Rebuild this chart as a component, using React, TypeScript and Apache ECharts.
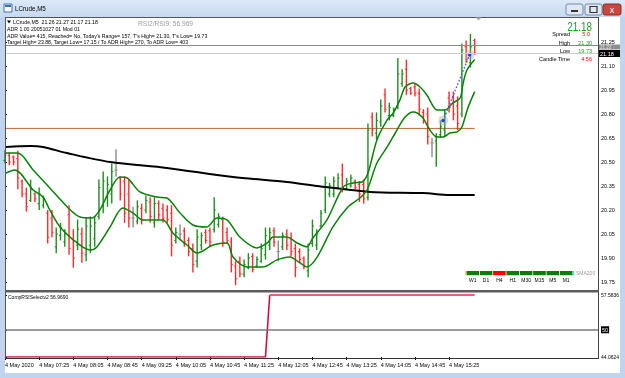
import React, { useEffect, useRef } from "react";
import * as echarts from "echarts";

const FONT = "'Liberation Sans', Arial, sans-serif";

// time axis (bar index -> label)
const timeLabelIdx = [0, 8, 16, 24, 32, 40, 48, 56, 64, 72, 80, 88, 96, 104];
const timeLabels = [
  "4 May 2020", "4 May 07:25", "4 May 08:05", "4 May 08:45", "4 May 09:25", "4 May 10:05", "4 May 10:45",
  "4 May 11:25", "4 May 12:05", "4 May 12:45", "4 May 13:25", "4 May 14:05", "4 May 14:45", "4 May 15:25",
];
const priceTicks = [19.75, 19.9, 20.05, 20.2, 20.35, 20.5, 20.65, 20.8, 20.95, 21.1, 21.25];

// OHLC per M5 bar: [open, high, low, close]
const ohlc: number[][] = [
  [20.51, 20.575, 20.49, 20.55], [20.54, 20.56, 20.48, 20.5], [20.53, 20.54, 20.48, 20.5], [20.52, 20.57, 20.33, 20.4],
  [20.38, 20.39, 20.28, 20.3], [20.3, 20.34, 20.19, 20.22], [20.26, 20.39, 20.25, 20.33], [20.3, 20.31, 20.25, 20.27],
  [20.24, 20.34, 20.2, 20.3], [20.23, 20.29, 20.21, 20.27], [20.18, 20.2, 19.99, 20.03], [20.15, 20.2, 20.03, 20.06],
  [19.97, 20.09, 19.93, 20.05], [20.04, 20.12, 20.01, 20.09], [20.0, 20.08, 19.97, 20.05], [20.17, 20.23, 19.92, 19.96],
  [20.02, 20.08, 19.84, 19.9], [19.98, 20.14, 19.95, 20.08], [20.05, 20.09, 19.87, 19.93], [19.92, 20.15, 19.88, 20.1],
  [19.98, 20.16, 19.93, 20.1], [20.02, 20.16, 19.97, 20.12], [20.16, 20.39, 20.14, 20.34], [20.22, 20.44, 20.18, 20.38],
  [20.28, 20.41, 20.22, 20.36], [20.3, 20.49, 20.24, 20.44], [20.45, 20.58, 20.41, 20.45], [20.4, 20.41, 20.26, 20.3],
  [20.38, 20.41, 20.12, 20.18], [20.3, 20.39, 20.09, 20.15], [20.15, 20.22, 20.09, 20.15], [20.13, 20.26, 20.11, 20.22],
  [20.21, 20.24, 20.11, 20.14], [20.2, 20.29, 20.18, 20.26], [20.25, 20.28, 20.12, 20.16], [20.12, 20.28, 20.09, 20.24],
  [20.24, 20.26, 20.14, 20.17], [20.21, 20.24, 20.12, 20.15], [20.2, 20.23, 20.12, 20.14], [20.18, 20.23, 19.91, 19.98],
  [20.01, 20.09, 19.99, 20.06], [20.05, 20.11, 20.01, 20.05], [20.07, 20.09, 19.97, 20.0], [20.01, 20.03, 19.91, 19.94],
  [19.96, 19.99, 19.81, 19.86], [19.88, 20.08, 19.84, 20.03], [19.98, 20.06, 19.95, 20.04], [20.06, 20.08, 19.99, 20.01],
  [20.07, 20.09, 19.97, 20.0], [20.08, 20.28, 20.06, 20.2], [20.11, 20.18, 20.09, 20.16], [20.14, 20.16, 19.97, 20.0],
  [20.06, 20.09, 19.99, 20.01], [20.0, 20.03, 19.81, 19.86], [19.85, 19.88, 19.73, 19.77], [19.88, 19.91, 19.78, 19.8],
  [19.8, 19.89, 19.78, 19.86], [19.84, 19.93, 19.83, 19.9], [19.91, 19.93, 19.81, 19.83], [19.85, 19.91, 19.84, 19.89],
  [19.88, 19.99, 19.87, 19.96], [19.92, 20.09, 19.89, 20.04], [19.98, 20.09, 19.95, 20.06], [20.07, 20.09, 19.97, 20.0],
  [19.94, 20.01, 19.88, 19.94], [19.97, 20.06, 19.95, 20.04], [20.05, 20.08, 19.95, 19.98], [20.02, 20.06, 19.91, 19.94],
  [19.96, 19.99, 19.78, 19.84], [19.94, 19.96, 19.87, 19.89], [19.9, 19.91, 19.83, 19.85], [19.82, 19.99, 19.78, 19.95],
  [19.99, 20.14, 19.97, 20.1], [19.98, 20.08, 19.95, 20.05], [20.1, 20.2, 20.09, 20.18], [20.2, 20.41, 20.18, 20.37],
  [20.3, 20.37, 20.28, 20.35], [20.3, 20.41, 20.28, 20.38], [20.34, 20.43, 20.33, 20.4], [20.42, 20.49, 20.31, 20.34],
  [20.33, 20.4, 20.33, 20.38], [20.35, 20.42, 20.34, 20.4], [20.38, 20.39, 20.33, 20.34], [20.36, 20.38, 20.25, 20.3],
  [20.36, 20.39, 20.24, 20.27], [20.28, 20.74, 20.26, 20.7], [20.78, 20.81, 20.66, 20.7], [20.68, 20.81, 20.64, 20.76],
  [20.75, 20.89, 20.72, 20.85], [20.92, 20.96, 20.81, 20.83], [20.79, 20.87, 20.76, 20.84], [20.79, 20.84, 20.78, 20.83],
  [20.85, 21.15, 20.83, 21.05], [20.99, 21.08, 20.97, 21.05], [21.08, 21.14, 20.92, 20.95], [20.96, 20.97, 20.92, 20.93],
  [20.97, 20.99, 20.91, 20.93], [20.93, 20.96, 20.79, 20.83], [20.81, 20.83, 20.74, 20.76], [20.8, 20.84, 20.61, 20.66],
  [20.62, 20.65, 20.53, 20.62], [20.63, 20.68, 20.47, 20.66], [20.67, 20.76, 20.65, 20.72], [20.7, 20.83, 20.66, 20.8],
  [20.9, 20.94, 20.81, 20.84], [20.9, 20.94, 20.76, 20.8], [20.85, 20.91, 20.7, 20.74], [20.8, 21.24, 20.78, 21.2],
  [21.22, 21.26, 21.12, 21.14], [21.12, 21.3, 21.09, 21.22], [21.26, 21.27, 21.17, 21.18],
];

// envelope bands and SMA200: [bar index, price]
const upperBand: number[][] = [
  [0.2, 20.556], [3, 20.556], [6.6, 20.45], [10.5, 20.338], [14.8, 20.213], [17.6, 20.156], [20.4, 20.15], [22.2, 20.2],
  [24.6, 20.325], [26.9, 20.406], [28.6, 20.4], [31.6, 20.313], [35.6, 20.281], [37.9, 20.275], [41, 20.181], [44, 20.106],
  [47.3, 20.094], [49.6, 20.15], [52, 20.138], [55, 20.031], [59, 19.963], [61.4, 19.994], [62.8, 20.031], [66, 20.031],
  [68.4, 19.994], [70.7, 19.97], [72.1, 20.025], [75.4, 20.138], [79.2, 20.344], [81.5, 20.369], [83.6, 20.375], [85, 20.431],
  [87.1, 20.638], [89.5, 20.763], [90.9, 20.806], [92.5, 20.888], [93.7, 20.969], [95.6, 20.994], [97.2, 20.969], [98.8, 20.919],
  [101.2, 20.825], [103, 20.825], [104.9, 20.869], [106.6, 20.9], [107.3, 20.994], [108.2, 21.075], [110, 21.14],
];
const lowerBand: number[][] = [
  [0.2, 20.431], [2.3, 20.45], [6.6, 20.325], [8.9, 20.281], [10.5, 20.2], [12.9, 20.094], [16.9, 19.994], [19.9, 19.95],
  [21.5, 19.969], [24.6, 20.094], [27.6, 20.213], [30, 20.181], [32.3, 20.138], [37, 20.138], [39.3, 20.056], [42.6, 19.981],
  [45, 19.931], [48.7, 19.981], [52, 19.994], [53.4, 19.906], [56.7, 19.844], [60.4, 19.844], [63.7, 19.888], [66.7, 19.906],
  [69.1, 19.869], [70.7, 19.844], [73.1, 19.906], [76.8, 20.094], [80.3, 20.219], [83.1, 20.275], [84.8, 20.325], [87.1, 20.494],
  [89.5, 20.594], [91.8, 20.7], [93.7, 20.781], [95.6, 20.813], [97.7, 20.781], [99.5, 20.7], [101.2, 20.656], [102.6, 20.656],
  [104.2, 20.681], [105.9, 20.688], [107, 20.719], [108.4, 20.838], [110, 20.94],
];
const sma200: number[][] = [
  [0.2, 20.594], [5.9, 20.6], [8.9, 20.594], [14.5, 20.556], [24.6, 20.5], [37.9, 20.463], [53.4, 20.406], [66, 20.375],
  [73.1, 20.35], [85.5, 20.313], [97.9, 20.306], [104.2, 20.294], [110, 20.294],
];
const levelLine: number[][] = [[0, 20.71], [110, 20.71]];
const trendPoints: number[][] = [[102.6, 20.76], [108.8, 21.17]];
const askPrice = 21.23;
const bidPrice = 21.18;

// CompRSISelect v2 steps: [bar index, value]
const rsiSteps: number[][] = [[0, 44.0624], [61, 44.0624], [62, 57.5836], [110, 57.5836]];
const rsiTicks = [44.0624, 50, 57.5836];
const rsiLevel = 50;

const tfLabels = ["W1", "D1", "H4", "H1", "M30", "M15", "M5", "M1"];
const tfUp = [true, true, false, true, true, true, true, true];

const X_MAX = 593 / 4.27;
const UP = "#1f8c1f";
const DOWN = "#ff2b2b";
const FLAT = "#8a8a8a";
const GREEN_TXT = "#1f9a1f";

function txt(x: number, y: number, text: string, size: number, fill = "#000", align = "left", extra: any = {}) {
  return {
    type: "text",
    x,
    y,
    z: 20,
    silent: true,
    ...extra,
    style: { text, fill, font: `${size}px ${FONT}`, textAlign: align, textVerticalAlign: "middle" },
  };
}

export default function App() {
  const ref = useRef<HTMLDivElement>(null);
  useEffect(() => {
    if (!ref.current) return;
    const chart = echarts.init(ref.current, undefined, { renderer: "svg" });

    const graphics: any[] = [
      // window frame & title bar
      { type: "rect", z: -10, silent: true, shape: { x: 0, y: 0, width: 625, height: 378 }, style: { fill: "#bfd5ef" } },
      {
        type: "rect", z: -9, silent: true, shape: { x: 0, y: 0, width: 625, height: 17 },
        style: { fill: new echarts.graphic.LinearGradient(0, 0, 0, 1, [{ offset: 0, color: "#dce9f7" }, { offset: 1, color: "#c6d9f0" }]) },
      },
      { type: "rect", z: -8, silent: true, shape: { x: 5, y: 17, width: 615, height: 356 }, style: { fill: "#ffffff" } },
      // icon
      { type: "rect", z: 20, silent: true, shape: { x: 4, y: 4, width: 8, height: 8 }, style: { fill: "#ffffff", stroke: "#3a6db5", lineWidth: 1 } },
      { type: "rect", z: 20, silent: true, shape: { x: 5, y: 5, width: 6, height: 2 }, style: { fill: "#3a6db5" } },
      txt(15, 9, "LCrude,M5", 8, "#000", "left", { scaleX: 0.78 }),
      // buttons
      { type: "rect", z: 20, silent: true, shape: { x: 566, y: 4, width: 17, height: 11, r: 2 }, style: { fill: "#dfe7f2", stroke: "#7489a8", lineWidth: 1 } },
      { type: "rect", z: 21, silent: true, shape: { x: 571, y: 10, width: 7, height: 2 }, style: { fill: "#333" } },
      { type: "rect", z: 20, silent: true, shape: { x: 585, y: 4, width: 17, height: 11, r: 2 }, style: { fill: "#dfe7f2", stroke: "#7489a8", lineWidth: 1 } },
      { type: "rect", z: 21, silent: true, shape: { x: 590, y: 6.5, width: 7, height: 6 }, style: { fill: "none", stroke: "#333", lineWidth: 1.2 } },
      { type: "rect", z: 20, silent: true, shape: { x: 603, y: 4, width: 18, height: 11, r: 2 }, style: { fill: "#c8473e", stroke: "#8a2d27", lineWidth: 1 } },
      txt(612, 9.5, "x", 9, "#ffffff", "center"),
      // panel frame
      { type: "line", z: 15, silent: true, shape: { x1: 5, y1: 17.5, x2: 598, y2: 17.5 }, style: { stroke: "#555", lineWidth: 1 } },
      { type: "line", z: 15, silent: true, shape: { x1: 5.5, y1: 17, x2: 5.5, y2: 359 }, style: { stroke: "#555", lineWidth: 1 } },
      { type: "line", z: 15, silent: true, shape: { x1: 598.5, y1: 17, x2: 598.5, y2: 359 }, style: { stroke: "#444", lineWidth: 1 } },
      { type: "rect", z: 15, silent: true, shape: { x: 5, y: 290, width: 594, height: 2.5 }, style: { fill: "#5c5c5c" } },
      { type: "line", z: 15, silent: true, shape: { x1: 5, y1: 358.5, x2: 598, y2: 358.5 }, style: { stroke: "#333", lineWidth: 1 } },
      // header texts
      { type: "polygon", z: 20, silent: true, shape: { points: [[7, 20.5], [11, 20.5], [9, 23.5]] }, style: { fill: "#000" } },
      txt(13, 22, "LCrude,M5  21.26 21.27 21.17 21.18", 5.2),
      txt(7, 29, "ADR 1.00 20051027 01 Mod 01", 5.2),
      txt(7, 35.5, "ADR Value= 415, Reached= No, Today's Range= 157, T's High= 21.30, T's Low= 19.73", 5.2),
      txt(7, 42, "Target High= 23.88, Target Low= 17.15 / To ADR High= 270, To ADR Low= 403", 5.2),
      txt(138, 23, "RSI2/RSI9: 56.969", 6.6, "#9c9c9c"),
      { type: "polygon", z: 20, silent: true, shape: { points: [[475.5, 17.5], [481.5, 17.5], [478.5, 20.5]] }, style: { fill: "#b0b0b0" } },
      // right info block
      txt(592, 26, "21.18", 13, GREEN_TXT, "right", { scaleX: 0.76 }),
      txt(570, 34, "Spread", 5.5, "#000", "right"), txt(590, 34, "5.0", 5.5, "#ff0000", "right"),
      txt(570, 43, "High", 5.5, "#000", "right"), txt(592, 43, "21.30", 5.5, GREEN_TXT, "right"),
      txt(570, 51, "Low", 5.5, "#000", "right"), txt(592, 51, "19.73", 5.5, GREEN_TXT, "right"),
      txt(570, 59, "Candle Time", 5.5, "#000", "right"), txt(592, 59, "4:56", 5.5, "#ff0000", "right"),
      // price axis boxes
      { type: "rect", z: 20, silent: true, shape: { x: 599, y: 44.5, width: 21, height: 5 }, style: { fill: "#8e8e8e" } },
      txt(600, 47.1, "21.23", 4.5, "#e0e0e0"),
      { type: "rect", z: 20, silent: true, shape: { x: 599, y: 50, width: 21, height: 7 }, style: { fill: "#000" } },
      txt(600, 53.5, "21.18", 5.5, "#ffffff"),
      // sub window label
      txt(8, 296.5, "CompRSISelectv2 56.9690", 5),
    ];

    // MTF trend bar
    tfLabels.forEach((lab, i) => {
      const x0 = 466 + i * 13.35;
      graphics.push({
        type: "rect", z: 20, silent: true, shape: { x: x0 + 0.4, y: 271, width: 12.6, height: 4.2 },
        style: { fill: tfUp[i] ? "#008000" : "#ff0000" },
      });
      graphics.push(txt(x0 + 6.7, 280, lab, 5, "#000", "center"));
    });
    graphics.push({ type: "rect", z: 21, silent: true, shape: { x: 465.5, y: 271, width: 1.3, height: 4.2 }, style: { fill: "#d8b800" } });
    graphics.push({ type: "rect", z: 21, silent: true, shape: { x: 572.8, y: 271, width: 1.3, height: 4.2 }, style: { fill: "#40d8e0" } });
    graphics.push(txt(576, 273.2, "SMA200", 5, "#9a9a9a"));

    const option: any = {
      animation: false,
      textStyle: { fontFamily: FONT },
      grid: [
        { left: 5, top: 18, width: 593, height: 272 },
        { left: 5, top: 295, width: 593, height: 62 },
      ],
      xAxis: [
        { type: "value", gridIndex: 0, min: 0, max: X_MAX, show: false },
        {
          type: "value", gridIndex: 1, min: 0, max: X_MAX,
          axisLine: { show: false }, splitLine: { show: false },
          axisTick: { show: true, customValues: timeLabelIdx, length: 3, lineStyle: { color: "#000" } },
          axisLabel: {
            customValues: timeLabelIdx,
            formatter: (v: number) => timeLabels[timeLabelIdx.indexOf(v)] ?? "",
            align: "left", fontSize: 5.5, color: "#000", margin: 5, fontFamily: FONT,
          },
        },
      ],
      yAxis: [
        {
          type: "value", gridIndex: 0, position: "right", min: 19.7, max: 21.4,
          axisLine: { show: false }, splitLine: { show: false },
          axisTick: { show: true, customValues: priceTicks, length: 2, lineStyle: { color: "#000" } },
          axisLabel: { customValues: priceTicks, formatter: (v: number) => v.toFixed(2), fontSize: 5.5, color: "#000", margin: 3, fontFamily: FONT },
        },
        {
          type: "value", gridIndex: 1, position: "right", min: 44.0624, max: 57.5836,
          axisLine: { show: false }, splitLine: { show: false },
          axisTick: { show: true, customValues: rsiTicks, length: 2, lineStyle: { color: "#000" } },
          axisLabel: {
            customValues: rsiTicks,
            formatter: (v: number) => (Math.abs(v - 50) < 1e-6 ? "{b|50}" : v.toFixed(4)),
            fontSize: 5, color: "#000", margin: 3, fontFamily: FONT,
            rich: { b: { backgroundColor: "#000", color: "#fff", fontSize: 5.5, padding: [1, 1, 0, 1], fontFamily: FONT } },
          },
        },
      ],
      graphic: { elements: graphics },
      series: [
        {
          type: "line", xAxisIndex: 0, yAxisIndex: 0, data: levelLine, symbol: "none", silent: true,
          lineStyle: { color: "#b8683a", width: 1 }, z: 1,
          markLine: {
            silent: true, symbol: "none", label: { show: false },
            data: [
              { yAxis: askPrice, lineStyle: { color: "#8a8a8a", width: 1, type: "solid" } },
              { yAxis: bidPrice, lineStyle: { color: "#cfcfcf", width: 1, type: "solid" } },
            ],
          },
        },
        {
          type: "custom", xAxisIndex: 0, yAxisIndex: 0, z: 2,
          data: ohlc.map((d, i) => [i, d[0], d[1], d[2], d[3]]),
          encode: { x: 0, y: [1, 2, 3, 4] },
          renderItem: (_p: any, api: any) => {
            const i = api.value(0);
            const o = api.value(1), h = api.value(2), l = api.value(3), c = api.value(4);
            const ph = api.coord([i, h]), pl = api.coord([i, l]), po = api.coord([i, o]), pc = api.coord([i, c]);
            const col = c > o ? UP : c < o ? DOWN : FLAT;
            return {
              type: "group",
              children: [
                { type: "line", shape: { x1: ph[0], y1: ph[1], x2: pl[0], y2: pl[1] }, style: { stroke: col, lineWidth: 1.4 } },
                { type: "line", shape: { x1: po[0] - 1.6, y1: po[1], x2: po[0], y2: po[1] }, style: { stroke: col, lineWidth: 1 } },
                { type: "line", shape: { x1: pc[0], y1: pc[1], x2: pc[0] + 1.6, y2: pc[1] }, style: { stroke: col, lineWidth: 1 } },
              ],
            };
          },
        },
        { type: "line", xAxisIndex: 0, yAxisIndex: 0, data: sma200, symbol: "none", smooth: 0.3, silent: true, z: 3, lineStyle: { color: "#000", width: 2 } },
        { type: "line", xAxisIndex: 0, yAxisIndex: 0, data: upperBand, symbol: "none", smooth: 0.3, silent: true, z: 3, lineStyle: { color: "#0a800a", width: 1.5 } },
        { type: "line", xAxisIndex: 0, yAxisIndex: 0, data: lowerBand, symbol: "none", smooth: 0.3, silent: true, z: 3, lineStyle: { color: "#0a800a", width: 1.5 } },
        {
          type: "scatter", xAxisIndex: 0, yAxisIndex: 0, data: trendPoints, symbolSize: 10, silent: true, z: 3,
          itemStyle: { color: "rgba(175,175,175,0.55)" },
        },
        {
          type: "line", xAxisIndex: 0, yAxisIndex: 0, data: trendPoints, silent: true, z: 4,
          symbol: "circle", symbolSize: 3.5, itemStyle: { color: "#1f3dff" },
          lineStyle: { color: "#3a55ff", width: 1.3, type: [1.5, 2] },
        },
        {
          type: "line", xAxisIndex: 1, yAxisIndex: 1, data: rsiSteps.slice(0, 3), symbol: "none", silent: true,
          lineStyle: { color: "#d0103a", width: 1.6 },
          markLine: {
            silent: true, symbol: "none", label: { show: false },
            data: [{ yAxis: rsiLevel, lineStyle: { color: "#7a7a7a", width: 1.5, type: "solid" } }],
          },
        },
        {
          type: "line", xAxisIndex: 1, yAxisIndex: 1, data: rsiSteps.slice(2), symbol: "none", silent: true,
          lineStyle: { color: "#e8607c", width: 2 },
        },
      ],
    };
    chart.setOption(option);
    return () => chart.dispose();
  }, []);

  return <div ref={ref} style={{ position: "fixed", left: 0, top: 0, width: 625, height: 378 }} />;
}
